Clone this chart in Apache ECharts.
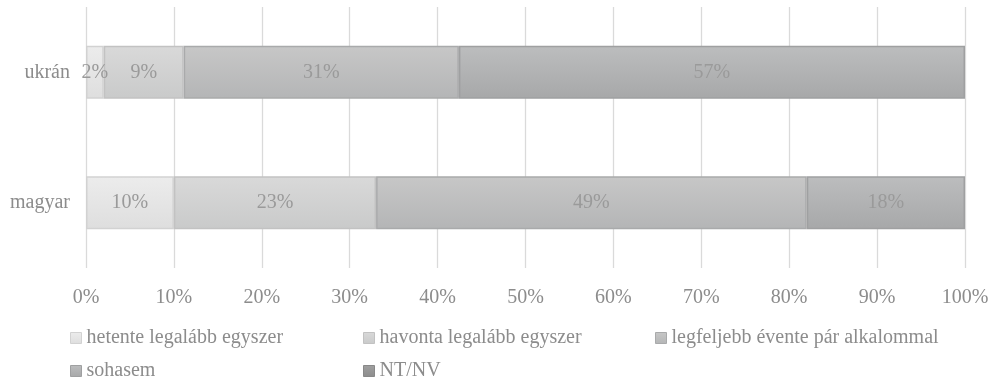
<!DOCTYPE html>
<html>
<head>
<meta charset="utf-8">
<script src="https://cdn.jsdelivr.net/npm/echarts@6/dist/echarts.min.js"></script>
<style>
  html, body { margin: 0; padding: 0; background: #ffffff; }
  #chart { width: 995px; height: 382px; }
</style>
</head>
<body>
<div id="chart"></div>
<script>
// Categories, bottom to top as drawn on the category axis
const categories = ['magyar', 'ukrán'];

// Answer shares (percent) per group: [magyar, ukrán]
const hetente   = [10, 2];
const havonta   = [23, 9];
const evente    = [49, 31];
const sohasem   = [18, 57];
const ntnv      = [0, 0];

const seriesNames = [
  'hetente legalább egyszer',
  'havonta legalább egyszer',
  'legfeljebb évente pár alkalommal',
  'sohasem',
  'NT/NV'
];

const xTicks = [0, 10, 20, 30, 40, 50, 60, 70, 80, 90, 100];

const FONT = 'Liberation Serif';
const raw = [hetente, havonta, evente, sohasem, ntnv];

// 100% stacked: each row is scaled so its parts fill the axis
const totals = categories.map((_, i) => raw.reduce((s, arr) => s + arr[i], 0));

const fills = [
  ['#ececec', '#dedede'],
  ['#d9d9d9', '#c9caca'],
  ['#c7c7c7', '#b4b5b6'],
  ['#bcbdbe', '#a7a8a9'],
  ['#a0a0a0', '#8c8c8c']
];
const borders = ['#d2d2d2', '#c2c2c2', '#a9aaab', '#9fa0a1', '#888888'];

function grad(c) {
  return new echarts.graphic.LinearGradient(0, 0, 0, 1, [
    { offset: 0, color: c[0] },
    { offset: 1, color: c[1] }
  ]);
}

const series = raw.map((arr, k) => ({
  name: seriesNames[k],
  type: 'bar',
  stack: 'total',
  barWidth: 53,
  data: arr.map((v, i) => v === 0 ? null : { value: v / totals[i] * 100, raw: v }),
  itemStyle: { color: grad(fills[k]), borderColor: borders[k], borderWidth: 1.5 },
  label: {
    show: true,
    position: 'inside',
    fontFamily: FONT,
    fontSize: 20,
    color: '#9a9a9a',
    formatter: p => p.data && p.data.raw ? p.data.raw + '%' : ''
  },
  emphasis: { disabled: true }
}));

// Legend laid out as a 3-column grid
const legendPos = [
  [70, 328], [363, 328], [655, 328],
  [70, 361], [363, 361]
];
const legends = seriesNames.map((n, k) => ({
  data: [{ name: n, icon: 'rect', itemStyle: { color: grad(fills[k]), borderColor: borders[k], borderWidth: 1 } }],
  left: legendPos[k][0],
  top: legendPos[k][1],
  padding: 0,
  itemWidth: 11,
  itemHeight: 11,
  itemGap: 0,
  selectedMode: false,
  textStyle: { fontFamily: FONT, fontSize: 20, color: '#8c8c8c', padding: [0, 0, 0, 0] }
}));

const chart = echarts.init(document.getElementById('chart'), null, { renderer: 'canvas' });
chart.setOption({
  animation: false,
  backgroundColor: '#ffffff',
  legend: legends,
  grid: { left: 86, right: 30, top: 7, bottom: 114, containLabel: false },
  xAxis: {
    type: 'value',
    min: xTicks[0],
    max: xTicks[xTicks.length - 1],
    interval: 10,
    axisLine: { show: false },
    axisTick: { show: false },
    splitLine: { show: true, lineStyle: { color: '#dadada', width: 1.3 } },
    axisLabel: { fontFamily: FONT, fontSize: 20, color: '#8c8c8c', margin: 20, formatter: v => v + '%' }
  },
  yAxis: {
    type: 'category',
    data: categories,
    axisLine: { show: false },
    axisTick: { show: false },
    axisLabel: { fontFamily: FONT, fontSize: 20, color: '#8c8c8c', margin: 16 }
  },
  series: series
});
</script>
</body>
</html>
